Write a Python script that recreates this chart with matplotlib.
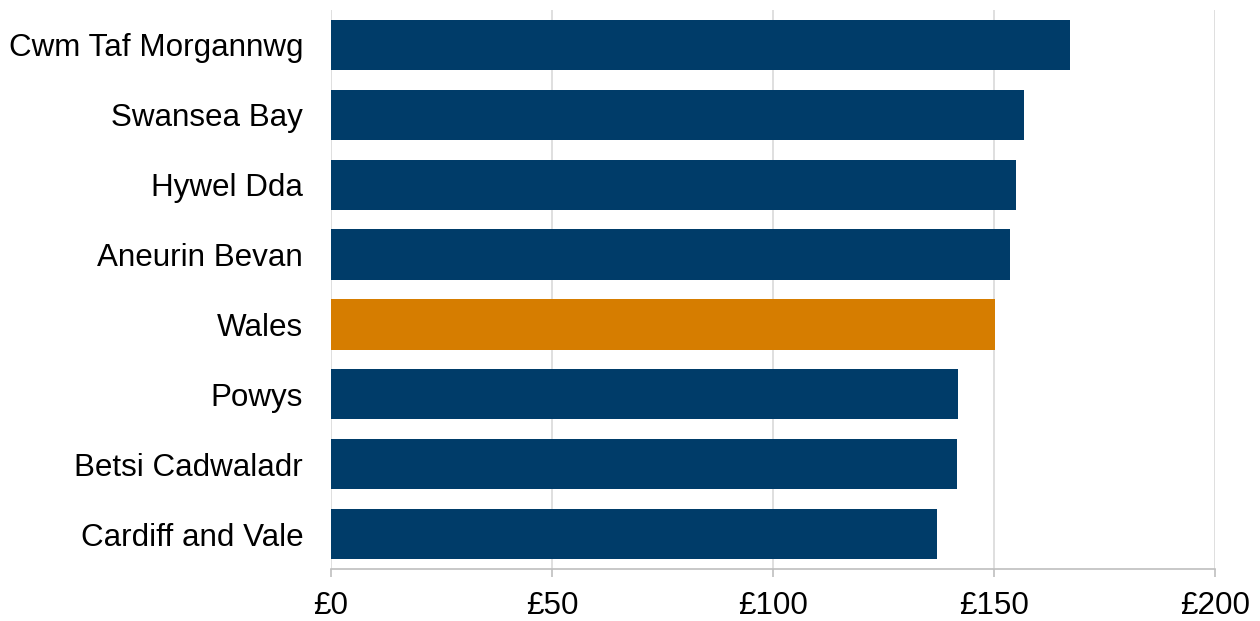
import matplotlib
matplotlib.use("Agg")
import matplotlib.pyplot as plt

categories = ["Cwm Taf Morgannwg", "Swansea Bay", "Hywel Dda", "Aneurin Bevan",
              "Wales", "Powys", "Betsi Cadwaladr", "Cardiff and Vale"]
values = [167.2, 156.9, 154.9, 153.6, 150.3, 141.9, 141.7, 137.0]
highlight = "Wales"
xticks = [0, 50, 100, 150, 200]
xticklabels = ["£0", "£50", "£100", "£150", "£200"]

navy = "#003C69"
orange = "#D67D00"

plt.rcParams['font.family'] = ['Liberation Sans', 'DejaVu Sans']

fig = plt.figure(figsize=(12.6, 6.21), dpi=100)
ax = fig.add_axes([331/1260, 1 - 569/621, (1215-331)/1260, (569-10)/621])

colors = [orange if c == highlight else navy for c in categories]
ypos = list(range(len(categories)))
ax.barh(ypos, values, height=0.72, color=colors, zorder=3)

ax.set_xlim(0, 200)
ax.set_ylim(len(categories) - 0.5, -0.5)
ax.set_yticks(ypos)
ax.set_yticklabels(categories, fontsize=22.6)
ax.set_xticks(xticks)
ax.set_xticklabels(xticklabels, fontsize=22.6)

ax.grid(axis='x', color='#d9d9d9', linewidth=1.2, zorder=0)
ax.tick_params(axis='y', length=0, pad=20)
ax.tick_params(axis='x', length=6, color='#bfbfbf', width=1.2, pad=10)
for s in ['top', 'right', 'left']:
    ax.spines[s].set_visible(False)
ax.spines['bottom'].set_color('#bfbfbf')
ax.spines['bottom'].set_linewidth(1.2)

fig.savefig("out.png", dpi=100)
